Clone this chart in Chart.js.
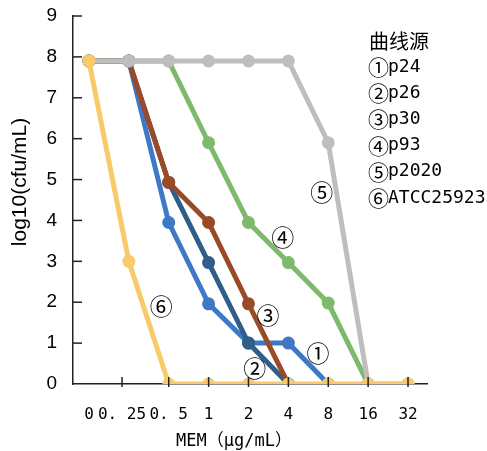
<!DOCTYPE html>
<html>
<head>
<meta charset="utf-8">
<script src="https://cdn.jsdelivr.net/npm/chart.js@4.4.1/dist/chart.umd.min.js"></script>
<style>
html,body{margin:0;padding:0;background:#fff;}
#wrap{position:relative;width:487px;height:451px;}
canvas{display:block;}
</style>
</head>
<body>
<div id="wrap"><canvas id="c" width="487" height="451"></canvas></div>
<script>
// ---- data ----
const categories = ['0', '0. 25', '0. 5', '1', '2', '4', '8', '16', '32'];
const yTicks = [0, 1, 2, 3, 4, 5, 6, 7, 8, 9];
const p24   = [7.9, 7.9, 3.95, 1.96, 1.0, 1.0, 0, null, null];
const p26   = [7.9, 7.9, 4.93, 2.97, 1.0, 0, null, null, null];
const p30   = [7.9, 7.9, 4.93, 3.95, 1.96, 0, null, null, null];
const p93   = [7.9, 7.9, 7.9, 5.9, 3.95, 2.97, 1.98, 0, null];
const p2020 = [7.9, 7.9, 7.9, 7.9, 7.9, 7.9, 5.9, 0, 0];
const atcc  = [7.9, 3.0, 0, 0, 0, 0, 0, 0, 0];
const legendTitle = '曲线源';
const legendItems = ['①p24', '②p26', '③p30', '④p93', '⑤p2020', '⑥ATCC25923'];
const curveMarks = ['①', '②', '③', '④', '⑤', '⑥'];
const markX = [5.74, 4.16, 4.49, 4.86, 5.84, 1.81];
const markY = [0.76, 0.39, 1.69, 3.58, 4.68, 1.89];
const xTitle = 'MEM（μg/mL）';
const yTitle = 'log10(cfu/mL)';

const colors = {
  p24: '#3E78C6', p26: '#2F5E8A', p30: '#9A4A27',
  p93: '#7DBA6B', p2020: '#BEBEBE', atcc: '#F8CA6A'
};

function toPts(arr) {
  return arr.map((v, i) => ({x: i, y: v}));
}
function ds(label, arr, color) {
  return {
    label, data: toPts(arr), borderColor: color, backgroundColor: color,
    pointBackgroundColor: color, pointBorderWidth: 0, pointRadius: 6.5,
    borderWidth: 5, spanGaps: false, tension: 0
  };
}

const xTickVals = [0, 0.83, 2, 3, 4, 5, 6, 7, 8];

const decor = {
  id: 'decor',
  afterDraw(chart) {
    const ctx = chart.ctx;
    const xs = chart.scales.x, ys = chart.scales.y;
    const ca = chart.chartArea;
    ctx.save();
    ctx.strokeStyle = '#222';
    ctx.lineWidth = 1.5;
    // y ticks inward
    yTicks.forEach(v => {
      if (v === 0) return;
      const py = ys.getPixelForValue(v);
      ctx.beginPath(); ctx.moveTo(ca.left, py); ctx.lineTo(ca.left + 9, py); ctx.stroke();
    });
    // x ticks
    xTickVals.forEach((v, i) => {
      if (i === 0) return;
      const px = xs.getPixelForValue(v);
      ctx.beginPath(); ctx.moveTo(px, ca.bottom - 7); ctx.lineTo(px, ca.bottom + 3); ctx.stroke();
    });
    ctx.fillStyle = '#000';
    // curve marks
    ctx.font = '23px "Noto Sans CJK SC"';
    ctx.textAlign = 'center';
    ctx.textBaseline = 'middle';
    curveMarks.forEach((m, i) => {
      ctx.fillText(m, xs.getPixelForValue(markX[i]), ys.getPixelForValue(markY[i]));
    });
    // legend text
    ctx.textAlign = 'left';
    ctx.font = '20px "Noto Sans CJK SC"';
    ctx.fillText(legendTitle, 369, 41);
    legendItems.forEach((t, i) => {
      const y = 67 + i * 26.2;
      const c = t.charAt(0), rest = t.slice(1);
      ctx.font = '21px "Noto Sans CJK SC"';
      ctx.fillText(c, 368, y);
      ctx.font = '18px "DejaVu Sans Mono"';
      ctx.fillText(rest, 388, y);
    });
    // x title
    ctx.textAlign = 'center';
    ctx.font = '17px "DejaVu Sans Mono", "Noto Sans CJK SC"';
    ctx.fillText(xTitle, 234, 442);
    // y title
    ctx.translate(20, 182);
    ctx.rotate(-Math.PI / 2);
    ctx.font = '21px "Liberation Sans"';
    ctx.fillText(yTitle, 0, 0);
    ctx.restore();
  }
};

new Chart(document.getElementById('c'), {
  type: 'line',
  data: {
    datasets: [
      ds('⑥ATCC25923', atcc, colors.atcc),
      ds('⑤p2020', p2020, colors.p2020),
      ds('④p93', p93, colors.p93),
      ds('③p30', p30, colors.p30),
      ds('②p26', p26, colors.p26),
      ds('①p24', p24, colors.p24)
    ]
  },
  options: {
    responsive: false,
    animation: false,
    events: [],
    layout: {padding: {left: 0, right: 60, top: 16, bottom: 0}},
    plugins: {legend: {display: false}, tooltip: {enabled: false}},
    scales: {
      x: {
        type: 'linear', min: -0.4, max: 8.476,
        afterBuildTicks(s) { s.ticks = xTickVals.map(v => ({value: v})); },
        afterFit(s) { s.height = 67; s.paddingLeft = 0; s.paddingRight = 0; },
        ticks: {
          autoSkip: false, maxRotation: 0, padding: 21, color: '#000',
          font: {family: '"DejaVu Sans Mono"', size: 16},
          callback: (v, i) => categories[i]
        },
        grid: {display: false, drawTicks: false},
        border: {display: true, color: '#222', width: 1.5}
      },
      y: {
        type: 'linear', min: 0, max: 9,
        afterBuildTicks(s) { s.ticks = yTicks.map(v => ({value: v})); },
        afterFit(s) { s.width = 73; s.paddingTop = 0; s.paddingBottom = 0; },
        ticks: {
          padding: 16, color: '#000',
          font: {family: '"Liberation Sans"', size: 19}
        },
        grid: {display: false, drawTicks: false},
        border: {display: true, color: '#222', width: 1.5}
      }
    }
  },
  plugins: [decor]
});
</script>
</body>
</html>
